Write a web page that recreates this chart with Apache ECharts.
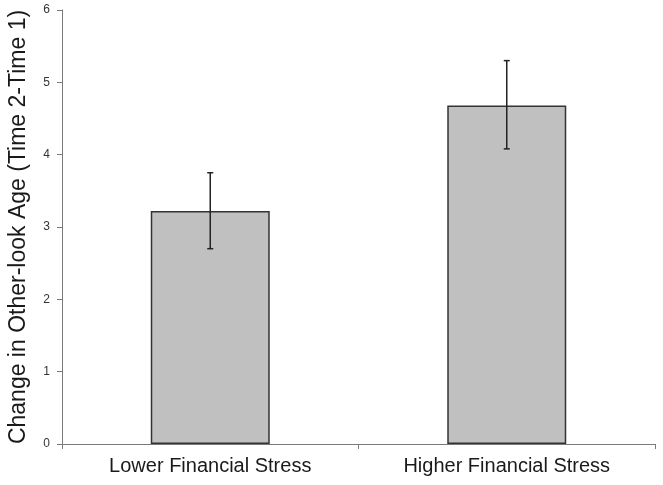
<!DOCTYPE html>
<html>
<head>
<meta charset="utf-8">
<script src="https://cdn.jsdelivr.net/npm/echarts@6/dist/echarts.min.js"></script>
<style>
  html, body { margin: 0; padding: 0; background: #fff; }
  #chart { width: 663px; height: 485px; }
</style>
</head>
<body>
<div id="chart"></div>
<script>
// 数据
const categories = ['Lower Financial Stress', 'Higher Financial Stress']
const means = [3.22, 4.68]
const errLow = [2.70, 4.08]
const errHigh = [3.75, 5.30]
const yTicks = [0, 1, 2, 3, 4, 5, 6]

const chart = echarts.init(document.getElementById('chart'))

const option = {
  animation: false,
  grid: { left: 62, right: 8, top: 10, bottom: 41, outerBoundsMode: 'none', containLabel: false },
  xAxis: {
    type: 'category',
    data: categories,
    axisLine: { lineStyle: { color: '#7a7a7a', width: 1 } },
    axisTick: { show: true, length: 5, lineStyle: { color: '#7a7a7a' } },
    axisLabel: {
      color: '#1a1a1a',
      fontFamily: 'Liberation Sans, Arial, sans-serif',
      fontSize: 20,
      margin: 12
    }
  },
  yAxis: {
    type: 'value',
    min: yTicks[0],
    max: yTicks[yTicks.length - 1],
    interval: 1,
    name: 'Change in Other-look Age (Time 2-Time 1)',
    nameLocation: 'middle',
    nameGap: 32,
    nameTextStyle: {
      color: '#1a1a1a',
      fontFamily: 'Liberation Sans, Arial, sans-serif',
      fontSize: 23
    },
    splitLine: { show: false },
    axisLine: { show: true, lineStyle: { color: '#7a7a7a', width: 1 } },
    axisTick: { show: true, length: 5, lineStyle: { color: '#7a7a7a' } },
    axisLabel: {
      color: '#333',
      fontFamily: 'Liberation Sans, Arial, sans-serif',
      fontSize: 12,
      margin: 12
    }
  },
  series: [
    {
      type: 'bar',
      data: means,
      barWidth: 119,
      itemStyle: {
        color: '#c0c0c0',
        borderColor: '#333',
        borderWidth: 1.5
      }
    },
    {
      type: 'custom',
      data: categories.map((c, i) => [i, errLow[i], errHigh[i]]),
      renderItem: function (params, api) {
        const x = api.value(0)
        const lo = api.coord([x, api.value(1)])
        const hi = api.coord([x, api.value(2)])
        const cap = 3
        const style = { stroke: '#222', lineWidth: 1.5 }
        return {
          type: 'group',
          children: [
            { type: 'line', shape: { x1: hi[0], y1: hi[1], x2: lo[0], y2: lo[1] }, style: style },
            { type: 'line', shape: { x1: hi[0] - cap, y1: hi[1], x2: hi[0] + cap, y2: hi[1] }, style: style },
            { type: 'line', shape: { x1: lo[0] - cap, y1: lo[1], x2: lo[0] + cap, y2: lo[1] }, style: style }
          ]
        }
      },
      z: 10
    }
  ]
}

chart.setOption(option)
</script>
</body>
</html>
